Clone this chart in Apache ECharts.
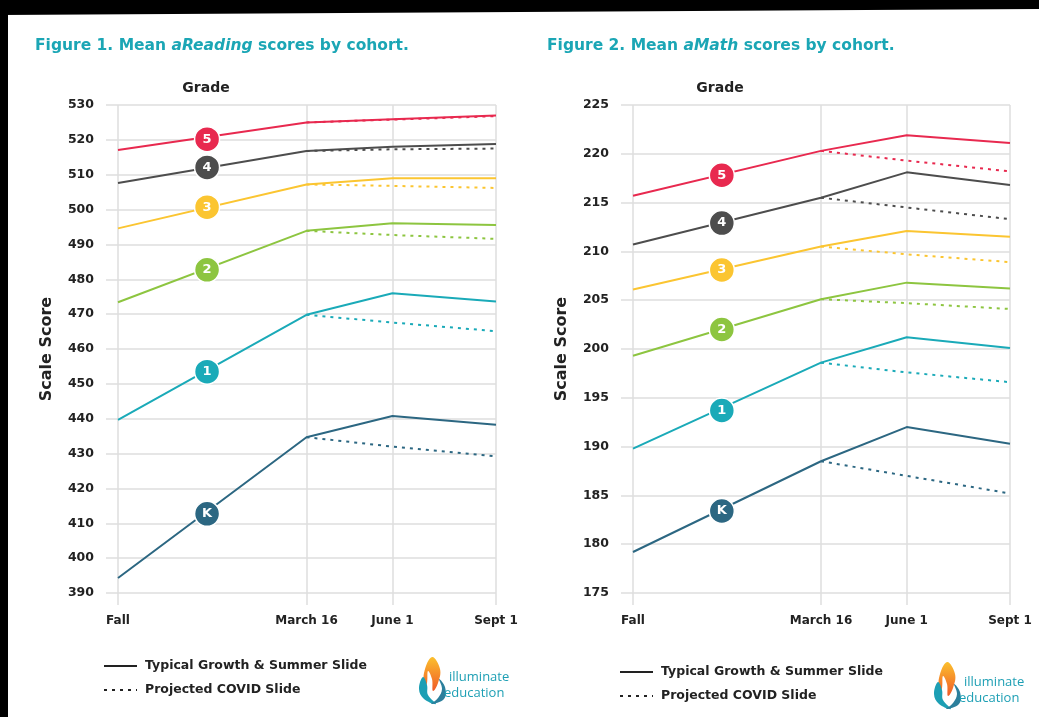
<!DOCTYPE html>
<html>
<head>
<meta charset="utf-8">
<script src="https://cdn.jsdelivr.net/npm/echarts@6/dist/echarts.min.js"></script>
<style>
  html, body { margin: 0; padding: 0; background: #fff; }
  #main { width: 1039px; height: 717px; }
</style>
</head>
<body>
<div id="main"></div>
<script>
// x positions (days after Fall) and their tick labels
var xDays = [0, 182, 265, 365];
var xLabels = ['Fall', 'March 16', 'June 1', 'Sept 1'];
var badgeDay = 86;

var grades = ['K', '1', '2', '3', '4', '5'];
var gradeColors = ['#2c6782', '#1aaab8', '#8dc540', '#fbc531', '#4d4d4d', '#e8294f'];

// Figure 1 - aReading (Fall, March 16, June 1, Sept 1)
var readingTypical = [
  [394.3, 434.7, 440.8, 438.3],
  [439.7, 469.8, 476.0, 473.6],
  [473.4, 493.9, 496.1, 495.6],
  [494.6, 507.2, 509.0, 509.0],
  [507.6, 516.8, 518.0, 518.8],
  [517.1, 525.0, 525.9, 527.0]
];
// projected covid slide (March 16, June 1, Sept 1)
var readingCovid = [
  [434.7, 432.0, 429.2],
  [469.8, 467.6, 465.1],
  [493.9, 492.7, 491.6],
  [507.2, 506.8, 506.2],
  [516.8, 517.3, 517.5],
  [525.0, 525.8, 526.8]
];
var readingBadge = [412.7, 453.5, 482.7, 500.7, 512.1, 520.2];

// Figure 2 - aMath
var mathTypical = [
  [179.2, 188.5, 192.0, 190.3],
  [189.8, 198.6, 201.2, 200.1],
  [199.3, 205.1, 206.8, 206.2],
  [206.1, 210.5, 212.1, 211.5],
  [210.7, 215.5, 218.1, 216.8],
  [215.7, 220.3, 221.9, 221.1]
];
var mathCovid = [
  [188.5, 187.0, 185.2],
  [198.6, 197.6, 196.6],
  [205.1, 204.7, 204.1],
  [210.5, 209.7, 208.9],
  [215.5, 214.5, 213.3],
  [220.3, 219.3, 218.2]
];
var mathBadge = [183.4, 193.7, 202.0, 208.1, 212.9, 217.8];

var FONT = '"DejaVu Sans", sans-serif';
var LOGOFONT = '"Open Sans", sans-serif';
var gridColor = '#dedede';

var chart = echarts.init(document.getElementById('main'));

function xAxisFor(i) {
  return {
    type: 'value', gridIndex: i, min: 0, max: 365,
    axisLine: { show: false },
    axisTick: { show: true, length: 12, customValues: xDays, lineStyle: { color: gridColor, width: 1.5 } },
    axisLabel: {
      customValues: xDays, margin: 22,
      color: '#222', fontFamily: FONT, fontWeight: 'bold', fontSize: 12,
      formatter: function (v) { return xLabels[xDays.indexOf(v)]; }
    },
    splitLine: { show: true, lineStyle: { color: gridColor, width: 1.5 } }
  };
}

function yAxisFor(i, min, max, step) {
  return {
    type: 'value', gridIndex: i, min: min, max: max, interval: step,
    name: 'Scale Score', nameLocation: 'middle', nameGap: 63, nameRotate: 90,
    nameTextStyle: { color: '#222', fontFamily: FONT, fontWeight: 'bold', fontSize: 16 },
    axisLine: { show: false },
    axisTick: { show: true, length: 12, lineStyle: { color: gridColor, width: 1.5 } },
    axisLabel: { margin: 24, color: '#222', fontFamily: FONT, fontWeight: 'bold', fontSize: 12.5 },
    splitLine: { show: true, lineStyle: { color: gridColor, width: 1.5 } }
  };
}

var series = [];
function addChart(i, typical, covid, badge) {
  for (var g = 0; g < grades.length; g++) {
    var c = gradeColors[g];
    series.push({
      type: 'line', xAxisIndex: i, yAxisIndex: i, symbol: 'none', z: 3,
      lineStyle: { color: c, width: 2 },
      data: xDays.map(function (d, j) { return [d, typical[g][j]]; })
    });
    series.push({
      type: 'line', xAxisIndex: i, yAxisIndex: i, symbol: 'none', z: 2,
      lineStyle: { color: c, width: 2, type: [3, 5] },
      data: xDays.slice(1).map(function (d, j) { return [d, covid[g][j]]; })
    });
    series.push({
      type: 'scatter', xAxisIndex: i, yAxisIndex: i, symbolSize: 25, z: 5,
      itemStyle: { color: c, opacity: 1, borderColor: '#fff', borderWidth: 1.5 },
      label: {
        show: true, position: 'inside', formatter: grades[g],
        color: '#fff', fontFamily: FONT, fontWeight: 'bold', fontSize: 13
      },
      data: [[badgeDay, badge[g]]]
    });
  }
}
addChart(0, readingTypical, readingCovid, readingBadge);
addChart(1, mathTypical, mathCovid, mathBadge);

var titleRich = {
  n: { fill: '#1ba6b5', fontFamily: FONT, fontWeight: 'bold', fontSize: 15.5 },
  it: { fill: '#1ba6b5', fontFamily: FONT, fontWeight: 'bold', fontStyle: 'italic', fontSize: 15.5 }
};

function legendGraphics(x, y) {
  var txt = { fill: '#222', fontFamily: FONT, fontWeight: 'bold', fontSize: 12.5 };
  return [
    { type: 'line', shape: { x1: x, y1: y, x2: x + 33, y2: y }, style: { stroke: '#222', lineWidth: 2 } },
    { type: 'text', x: x + 41, y: y, style: Object.assign({ text: 'Typical Growth & Summer Slide', verticalAlign: 'middle' }, txt) },
    { type: 'line', shape: { x1: x, y1: y + 24, x2: x + 33, y2: y + 24 }, style: { stroke: '#222', lineWidth: 2, lineDash: [3, 5] } },
    { type: 'text', x: x + 41, y: y + 24, style: Object.assign({ text: 'Projected COVID Slide', verticalAlign: 'middle' }, txt) }
  ];
}

function logoGraphics(x, y) {
  // simple flame + swoosh mark with wordmark
  return [
    { type: 'polygon', x: x, y: y,
      shape: { points: [[14, 0], [22, 12], [20, 26], [15, 34], [14, 22], [10, 14], [9, 26], [7, 30], [6, 16]], smooth: 0.4 },
      style: { fill: new echarts.graphic.LinearGradient(0, 0, 0, 1, [{ offset: 0, color: '#fbc02d' }, { offset: 1, color: '#f05a28' }]) } },
    { type: 'polygon', x: x, y: y,
      shape: { points: [[5, 20], [1, 32], [6, 42], [18, 47], [10, 38], [9, 28]], smooth: 0.4 },
      style: { fill: '#1d9fb4' } },
    { type: 'polygon', x: x, y: y,
      shape: { points: [[21, 22], [24, 32], [20, 41], [13, 47], [26, 42], [27, 30]], smooth: 0.4 },
      style: { fill: '#2c7f9c' } },
    { type: 'text', x: x + 31, y: y + 20, style: { text: 'illuminate', fill: '#1d9fb4', fontFamily: LOGOFONT, fontSize: 13, verticalAlign: 'middle' } },
    { type: 'text', x: x + 26, y: y + 36, style: { text: 'education', fill: '#1d9fb4', fontFamily: LOGOFONT, fontSize: 13, verticalAlign: 'middle' } }
  ];
}

var graphics = [
  { type: 'polygon', shape: { points: [[0, 0], [1039, 0], [1039, 9], [0, 15]] }, style: { fill: '#000' } },
  { type: 'rect', shape: { x: 0, y: 0, width: 8, height: 717 }, style: { fill: '#000' } },
  { type: 'text', x: 35, y: 46, style: { text: '{n|Figure 1. Mean }{it|aReading}{n| scores by cohort.}', rich: titleRich, verticalAlign: 'middle' } },
  { type: 'text', x: 547, y: 46, style: { text: '{n|Figure 2. Mean }{it|aMath}{n| scores by cohort.}', rich: titleRich, verticalAlign: 'middle' } },
  { type: 'text', x: 206, y: 88, style: { text: 'Grade', fill: '#222', fontFamily: FONT, fontWeight: 'bold', fontSize: 14, align: 'center', verticalAlign: 'middle' } },
  { type: 'text', x: 720, y: 88, style: { text: 'Grade', fill: '#222', fontFamily: FONT, fontWeight: 'bold', fontSize: 14, align: 'center', verticalAlign: 'middle' } }
].concat(legendGraphics(104, 666), legendGraphics(620, 672), logoGraphics(418, 657), logoGraphics(933, 662));

var option = {
  backgroundColor: '#fff',
  animation: false,
  grid: [
    { left: 118, top: 105, width: 378, height: 488 },
    { left: 633, top: 105, width: 377, height: 488 }
  ],
  xAxis: [xAxisFor(0), xAxisFor(1)],
  yAxis: [yAxisFor(0, 390, 530, 10), yAxisFor(1, 175, 225, 5)],
  series: series,
  graphic: graphics
};

chart.setOption(option);
</script>
</body>
</html>
